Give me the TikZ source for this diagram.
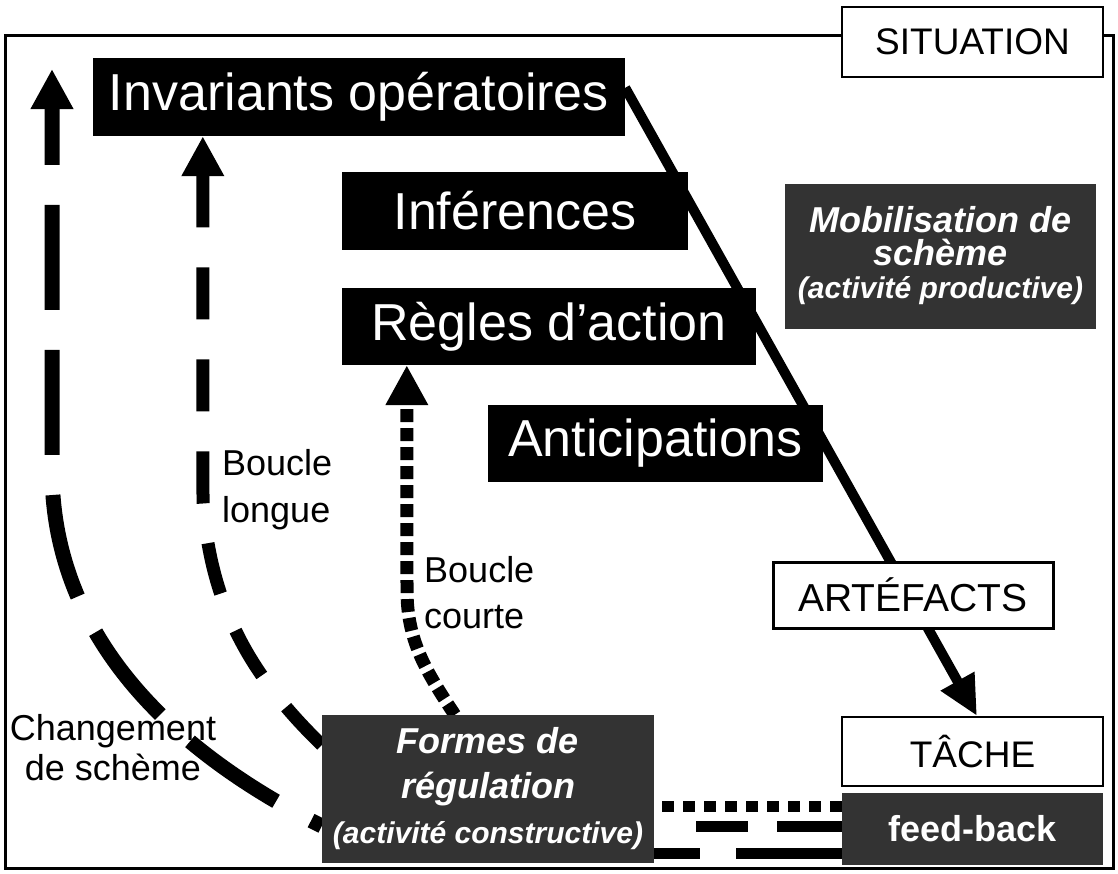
\documentclass[tikz,border=0pt]{standalone}
\usepackage{fontspec}
\setmainfont{Liberation Sans}
\usetikzlibrary{arrows.meta,calc,backgrounds}
\definecolor{darkbox}{gray}{0.2}
\tikzset{
  blackbox/.style={fill=black, text=white, inner sep=0pt, font=\fontsize{52}{60}\selectfont},
  greybox/.style={fill=darkbox, text=white, inner sep=0pt, align=center},
  whitebox/.style={draw=black, fill=white, line width=2pt, inner sep=0pt, font=\fontsize{37}{44}\selectfont},
  lbl/.style={inner sep=0pt, font=\fontsize{36}{44}\selectfont},
  bigtip/.style={-{Triangle[width=40pt,length=40pt]}},
  chgline/.style={line width=15pt, dash pattern=on 105pt off 40pt, dash phase=93pt, bigtip},
  longline/.style={line width=13pt, dash pattern=on 52pt off 40pt, bigtip},
  shortline/.style={line width=13pt, dash pattern=on 13pt off 6pt, bigtip},
  mainline/.style={line width=10pt, -{Triangle[width=36pt,length=40pt]}},
}
\begin{document}
\begin{tikzpicture}[x=1pt, y=-1pt]
\useasboundingbox (0,0) rectangle (1118,873);

% boxes
\node[blackbox, minimum width=532pt, minimum height=78pt] (inv) at (359,97) {Invariants opératoires};
\node[blackbox, minimum width=346pt, minimum height=78pt] (inf) at (515,211) {Inférences};
\node[blackbox, minimum width=414pt, minimum height=77pt] (reg) at (549,326.5) {Règles d'action};
\node[blackbox, minimum width=335pt, minimum height=77pt] (ant) at (655.5,443.5) {Anticipations};
\node[greybox, minimum width=311pt, minimum height=145pt, font=\fontsize{36}{33}\selectfont\bfseries\itshape] (mob) at (940.5,256)
  {Mobilisation de\\schème\\{\fontsize{30}{33}\selectfont (activité productive)}};
\node[whitebox, minimum width=261pt, minimum height=70pt] (sit) at (972.5,42) {SITUATION};
\node[whitebox, line width=3pt, minimum width=280pt, minimum height=66pt, font=\fontsize{39}{44}\selectfont] (art) at (913,595) {ARTÉFACTS};
\node[whitebox, minimum width=261pt, minimum height=69pt] (tache) at (972.5,751.5) {TÂCHE};
\node[greybox, minimum width=261pt, minimum height=72pt, font=\fontsize{36}{40}\selectfont\bfseries] (feed) at (972.5,829) {feed-back};
\node[greybox, minimum width=332pt, minimum height=148pt, font=\fontsize{36}{45}\selectfont\bfseries\itshape] (formes) at (488,789)
  {Formes de\\régulation\\{\fontsize{30}{45}\selectfont (activité constructive)}};

% labels
\node[lbl, align=left, anchor=north west, font=\fontsize{36}{47}\selectfont] (bl) at (222,449) {Boucle\\longue};
\node[lbl, align=left, anchor=north west, font=\fontsize{36}{46}\selectfont] (bc) at (424,556) {Boucle\\courte};
\node[lbl, align=center, anchor=north, font=\fontsize{36}{40}\selectfont] (cs) at (113,714) {Changement\\de schème};

\coordinate (ctop) at (52,69);

\begin{pgfonlayer}{background}
  \fill[white] (0,0) rectangle (1118,873);
  % frame
  \draw[line width=3pt] (5,35) rectangle (1113,868);
  % main chain
  \draw[mainline] ($(inv.north east)+(0,30)$) -- ($(tache.north)+(4.5,0)$);
  % loops
  \draw[chgline] ($(formes.west)+(0,37)$) .. controls (150,740) and (52,620) .. (52,470) -- (ctop);
  \draw[longline] ($(formes.west)+(0,-44)$) .. controls (255,680) and (210,610) .. (203,500) -- ($(inv.south west)+(110,0)$);
  \draw[shortline] ($(formes.north west)+(133,0)$) .. controls (425,670) and (407,640) .. (407,590) -- ($(reg.south west)+(65,0)$);
  % feed-back rows
  \draw[line width=11pt, dash pattern=on 12pt off 9pt] ($(feed.west)+(0,-23)$) -- ($(formes.east)+(0,17)$);
  \draw[line width=11pt, dash pattern=on 65pt off 29pt on 52pt off 100pt] ($(feed.west)+(0,-3)$) -- ($(formes.east)+(0,37)$);
  \draw[line width=11pt, dash pattern=on 106pt off 36pt on 60pt off 60pt] ($(feed.west)+(0,24)$) -- ($(formes.east)+(0,64)$);
\end{pgfonlayer}
\end{tikzpicture}
\end{document}
